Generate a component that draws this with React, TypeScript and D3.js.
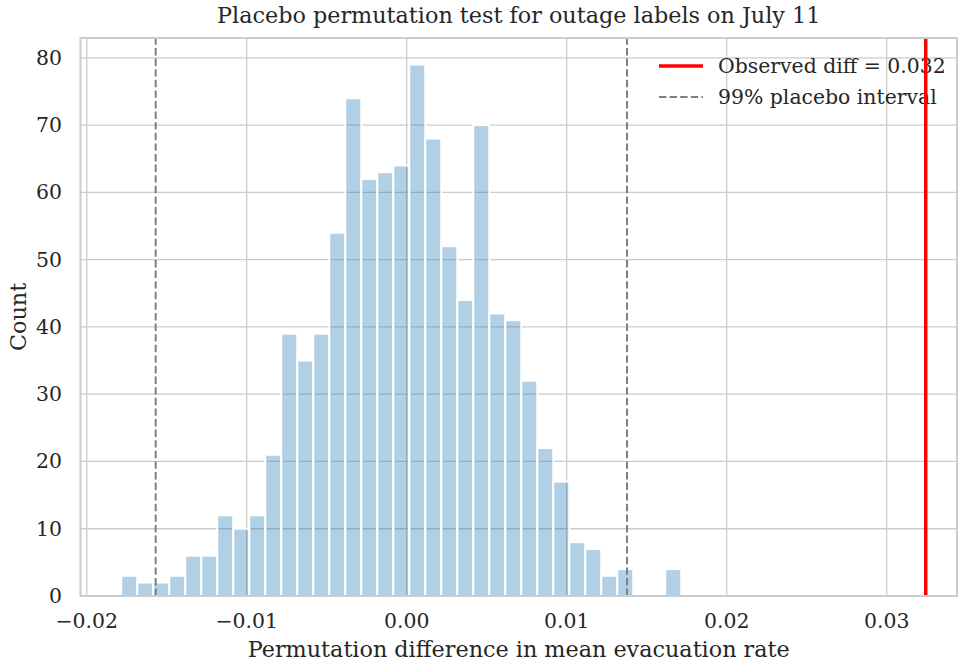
import React from "react";
import * as d3 from "d3";

// histogram counts, one per bin (1000 permutations)
const counts = [
  3, 2, 2, 3, 6, 6, 12, 10, 12, 21, 39, 35, 39, 54, 74, 62, 63, 64, 79, 68, 52,
  44, 70, 42, 41, 32, 22, 17, 8, 7, 3, 4, 0, 0, 4,
];
const binStart = -0.01784;
const binWidth = 0.001;

const observedDiff = 0.03244;
const placeboInterval = [-0.01569, 0.01377];

const xTicks = [-0.02, -0.01, 0.0, 0.01, 0.02, 0.03];
const yTicks = [0, 10, 20, 30, 40, 50, 60, 70, 80];

const W = 958;
const H = 661;
const margin = { top: 38, right: 1, bottom: 65, left: 80.5 };
const FONT = "'DejaVu Serif', serif";
const TEXT = "#262626";
const GRID = "#cccccc";
const TICK_SIZE = 20.4;
const LABEL_SIZE = 22.3;
const DASH = "7.4,3.2";

export default function App() {
  const x = d3
    .scaleLinear()
    .domain([-0.020388, 0.034394])
    .range([margin.left, W - margin.right]);
  const y = d3
    .scaleLinear()
    .domain([0, 82.95])
    .range([H - margin.bottom, margin.top]);

  const bins = counts.map((c, i) => ({
    x0: binStart + i * binWidth,
    x1: binStart + (i + 1) * binWidth,
    c,
  }));

  const fmt = (v: number) =>
    (v < 0 ? "\u2212" : "") + Math.abs(v).toFixed(2);

  const x0 = margin.left;
  const x1 = W - margin.right;
  const y0 = H - margin.bottom;
  const y1 = margin.top;

  return (
    <svg
      width={W}
      height={H}
      style={{ position: "absolute", left: 0, top: 0, background: "#fff" }}
      fontFamily={FONT}
    >
      <rect width={W} height={H} fill="#fff" />
      {/* grid */}
      {yTicks.map((t) => (
        <line
          key={`gy${t}`}
          x1={x0}
          x2={x1}
          y1={y(t)}
          y2={y(t)}
          stroke={GRID}
          strokeWidth={1.3}
        />
      ))}
      {xTicks.map((t) => (
        <line
          key={`gx${t}`}
          x1={x(t)}
          x2={x(t)}
          y1={y0}
          y2={y1}
          stroke={GRID}
          strokeWidth={1.3}
        />
      ))}

      {/* bars */}
      {bins
        .filter((b) => b.c > 0)
        .map((b, i) => (
          <rect
            key={i}
            x={x(b.x0)}
            y={y(b.c)}
            width={x(b.x1) - x(b.x0)}
            height={y(0) - y(b.c)}
            fill="rgba(31,119,180,0.35)"
            stroke="#fff"
            strokeWidth={2}
          />
        ))}

      {/* placebo interval */}
      {placeboInterval.map((v, i) => (
        <line
          key={`pi${i}`}
          x1={x(v)}
          x2={x(v)}
          y1={y0}
          y2={y1}
          stroke="#7f7f7f"
          strokeWidth={2}
          strokeDasharray={DASH}
        />
      ))}

      {/* legend */}
      <g fontSize={TICK_SIZE} fill={TEXT}>
        <line x1={659} x2={703} y1={66} y2={66} stroke="red" strokeWidth={3.5} />
        <text x={718} y={66} dominantBaseline="central">
          Observed diff = 0.032
        </text>
        <line
          x1={659}
          x2={703}
          y1={97}
          y2={97}
          stroke="#7f7f7f"
          strokeWidth={2}
          strokeDasharray={DASH}
        />
        <text x={718} y={97} dominantBaseline="central">
          99% placebo interval
        </text>
      </g>

      {/* observed */}
      <line
        x1={x(observedDiff)}
        x2={x(observedDiff)}
        y1={y0}
        y2={y1}
        stroke="red"
        strokeWidth={3.5}
      />

      {/* frame */}
      <rect
        x={x0}
        y={y1}
        width={x1 - x0}
        height={y0 - y1}
        fill="none"
        stroke={GRID}
        strokeWidth={2}
      />

      {/* ticks */}
      <g fontSize={TICK_SIZE} fill={TEXT}>
        {yTicks.map((t) => (
          <text
            key={`ty${t}`}
            x={62}
            y={y(t)}
            textAnchor="end"
            dominantBaseline="central"
          >
            {t}
          </text>
        ))}
        {xTicks.map((t) => (
          <text
            key={`tx${t}`}
            x={x(t)}
            y={621}
            textAnchor="middle"
            dominantBaseline="central"
          >
            {fmt(t)}
          </text>
        ))}
      </g>

      <text
        x={(x0 + x1) / 2}
        y={649}
        textAnchor="middle"
        dominantBaseline="central"
        fontSize={LABEL_SIZE}
        fill={TEXT}
      >
        Permutation difference in mean evacuation rate
      </text>
      <text
        transform={`translate(18,${(y0 + y1) / 2}) rotate(-90)`}
        textAnchor="middle"
        dominantBaseline="central"
        fontSize={LABEL_SIZE}
        fill={TEXT}
      >
        Count
      </text>
      <text
        x={(x0 + x1) / 2}
        y={15}
        textAnchor="middle"
        dominantBaseline="central"
        fontSize={LABEL_SIZE}
        fill={TEXT}
      >
        Placebo permutation test for outage labels on July 11
      </text>
    </svg>
  );
}
